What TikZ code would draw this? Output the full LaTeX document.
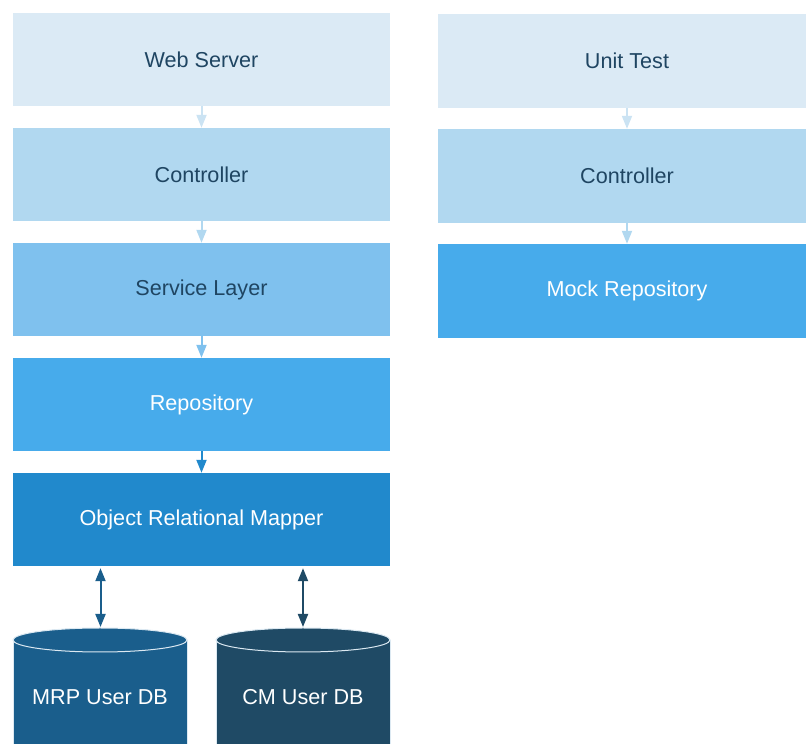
\documentclass[tikz,border=0pt]{standalone}
\usepackage{fontspec}
\setmainfont{Liberation Sans}
\usetikzlibrary{arrows.meta}
\definecolor{c1}{HTML}{DBEAF5}
\definecolor{c1a}{HTML}{CBE3F3}
\definecolor{c2}{HTML}{B1D8F0}
\definecolor{c3}{HTML}{7FC1EE}
\definecolor{c4}{HTML}{47ABEB}
\definecolor{c5}{HTML}{2189CC}
\definecolor{db1}{HTML}{1A5E8C}
\definecolor{db2}{HTML}{1F4A65}
\definecolor{txt}{HTML}{1F4562}
\definecolor{rim}{HTML}{DCE9F2}
\begin{document}
\begin{tikzpicture}[x=1pt,y=1pt,
  layer/.style={rectangle, minimum width=377pt, minimum height=93pt, inner sep=0pt,
    font=\fontsize{21.6}{25}\selectfont, text=txt},
  rlayer/.style={layer, minimum width=378pt, minimum height=94pt},
  flow/.style={-{Triangle[width=10pt,length=13pt]}, line width=2pt},
  dbl/.style={{Triangle[width=10pt,length=13pt]}-{Triangle[width=10pt,length=13pt]}, line width=2pt},
  dbtext/.style={font=\fontsize{21.6}{25}\selectfont, text=white, inner sep=0pt},
  cylline/.style={draw=rim, line width=1pt}]
\useasboundingbox (0,0) rectangle (806,744);
\clip (0,0) rectangle (806,744);
% left stack
\node[layer, fill=c1] (web) at (201.5,684.5) {Web Server};
\node[layer, fill=c2] (ctrl) at (201.5,569.5) {Controller};
\node[layer, fill=c3] (svc) at (201.5,454.5) {Service Layer};
\node[layer, fill=c4, text=white] (repo) at (201.5,339.5) {Repository};
\node[layer, fill=c5, text=white] (orm) at (201.5,224.5) {Object Relational Mapper};
% right stack
\node[rlayer, fill=c1] (unit) at (627,683) {Unit Test};
\node[rlayer, fill=c2] (rctrl) at (627,568) {Controller};
\node[rlayer, fill=c4, text=white] (mock) at (627,453) {Mock Repository};
% arrows
\draw[flow, c1a] (web) -- (ctrl);
\draw[flow, c2] (ctrl) -- (svc);
\draw[flow, c3] (svc) -- (repo);
\draw[flow, c5] (repo) -- (orm);
\draw[flow, c1a] (unit) -- (rctrl);
\draw[flow, c2] (rctrl) -- (mock);
% cylinders
\fill[db1] (13,104) -- (13,-10) -- (187,-10) -- (187,104) arc[start angle=0,end angle=180,x radius=87,y radius=12] -- cycle;
\draw[cylline] (100,104) ellipse[x radius=87, y radius=12];
\draw[cylline] (13,104) -- (13,-10) (187,104) -- (187,-10);
\fill[db2] (216,104) -- (216,-10) -- (390,-10) -- (390,104) arc[start angle=0,end angle=180,x radius=87,y radius=12] -- cycle;
\draw[cylline] (303,104) ellipse[x radius=87, y radius=12];
\draw[cylline] (216,104) -- (216,-10) (390,104) -- (390,-10);
\node[dbtext] (mrp) at (100,47) {MRP User DB};
\node[dbtext] (cm) at (303,47) {CM User DB};
\coordinate (mrptop) at (100.5,117);
\coordinate (cmtop) at (303,117);
\draw[dbl, db1] ([yshift=-2pt]orm.south -| mrptop) -- (mrptop);
\draw[dbl, db2] ([yshift=-2pt]orm.south -| cmtop) -- (cmtop);
\end{tikzpicture}
\end{document}
